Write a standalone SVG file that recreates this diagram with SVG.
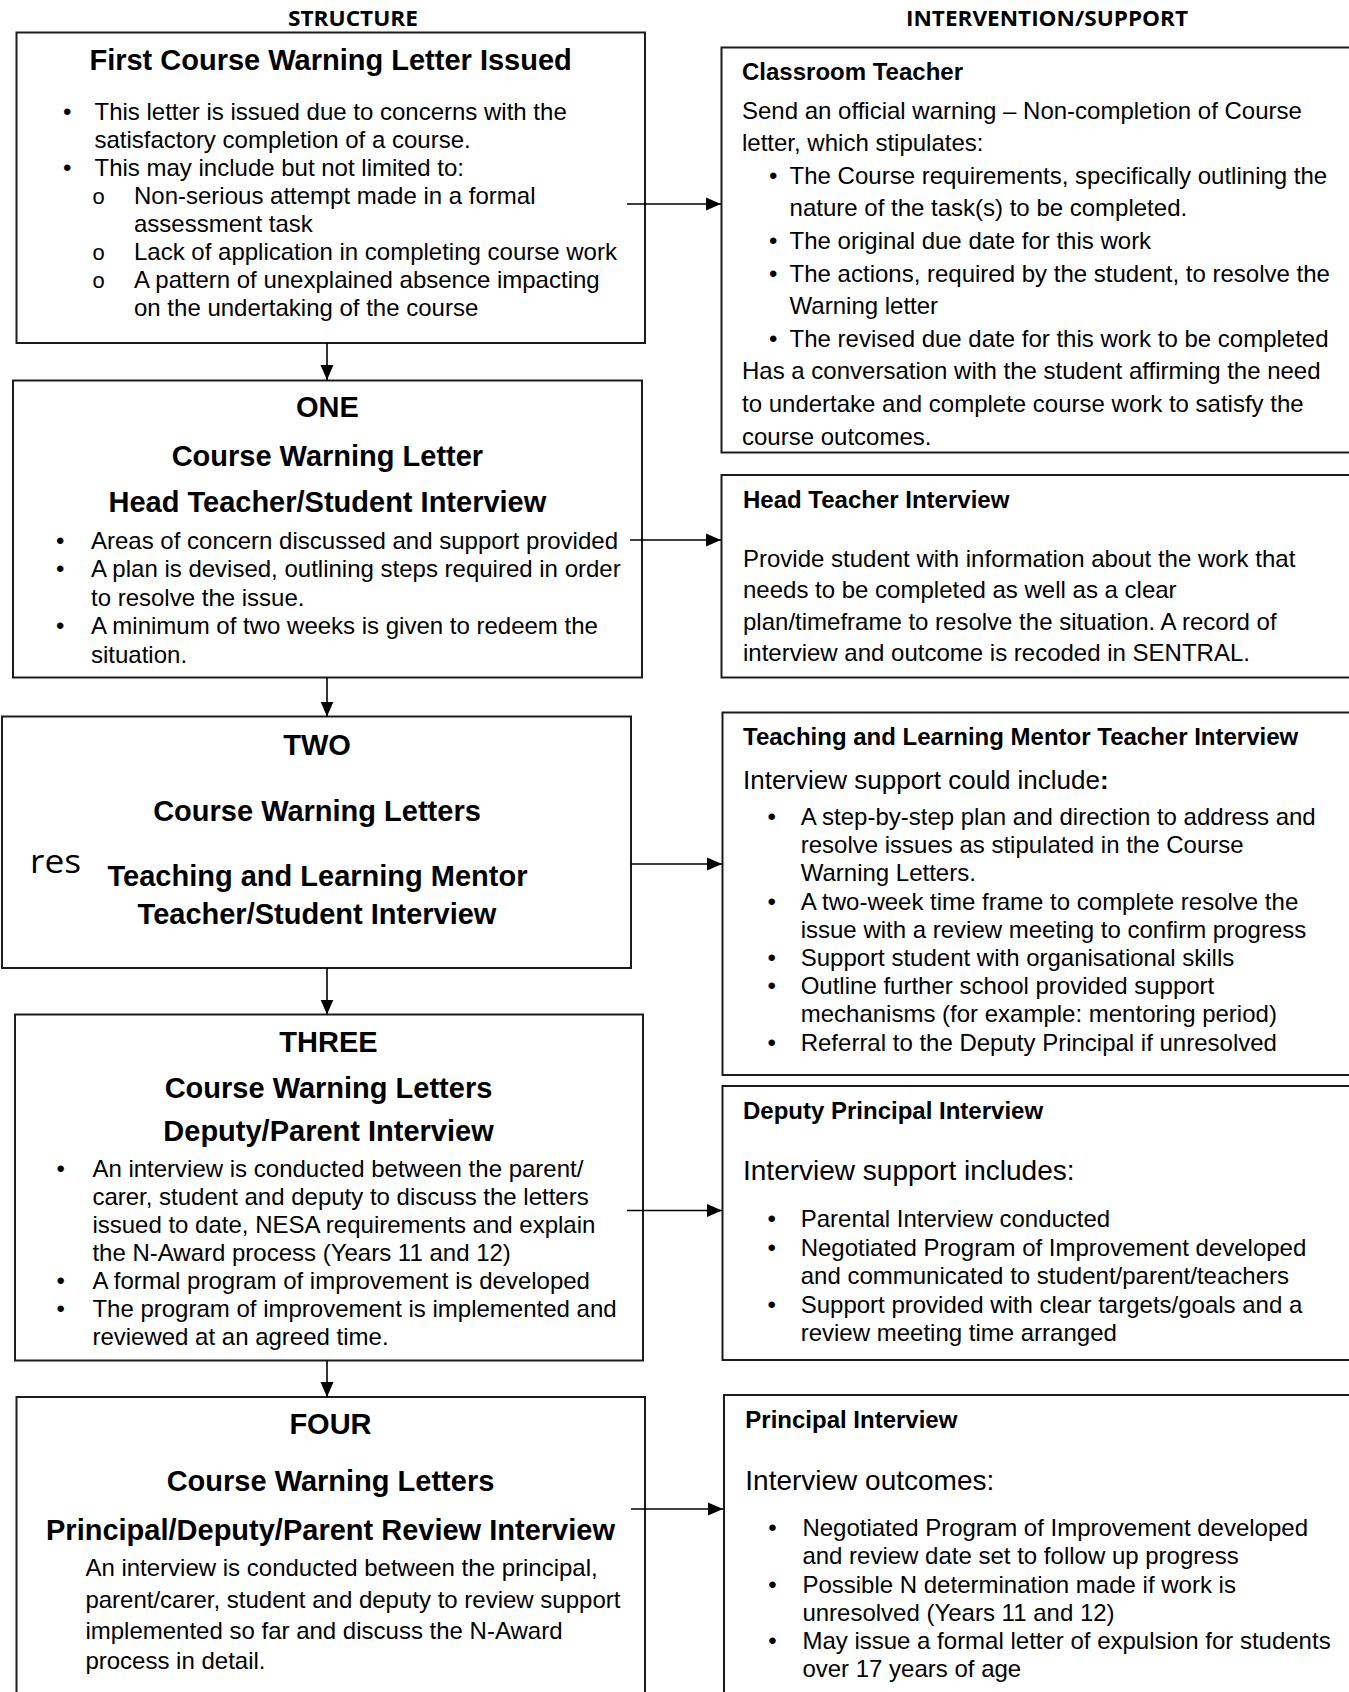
<svg xmlns="http://www.w3.org/2000/svg" width="1349" height="1692" viewBox="0 0 1349 1692">
<style>
.bg{fill:#fff}
.box{fill:#fff;stroke:#1c1c1c;stroke-width:2}
.t{font-family:"Liberation Sans",Arial,sans-serif;font-size:24px;fill:#000}
.b{font-weight:bold}
.h{font-family:"Liberation Sans",Arial,sans-serif;font-size:29px;font-weight:bold;text-anchor:middle;fill:#000}
.hd{font-family:"Open Sans",sans-serif;font-weight:bold;font-size:21px;text-anchor:middle;fill:#000}
.sub{font-family:"Liberation Mono",monospace;font-size:22px;fill:#000}
.res{font-family:"Open Sans",sans-serif;font-size:33px;fill:#000}
.big{font-size:26px}
.big2{font-size:28px}
.conn{stroke:#000;stroke-width:1.6;fill:none}
</style>
<defs>
<marker id="ah" markerUnits="userSpaceOnUse" markerWidth="16" markerHeight="14" refX="15" refY="7" orient="auto">
<path d="M0,0.5 L15,7 L0,13.5 z" fill="#000"/>
</marker>
</defs>
<rect class="bg" x="0" y="0" width="1349" height="1692"/>

<g id="headers">
<text class="hd" x="353" y="26" textLength="130" lengthAdjust="spacingAndGlyphs">STRUCTURE</text>
<text class="hd" x="1047" y="26" textLength="282" lengthAdjust="spacingAndGlyphs">INTERVENTION/SUPPORT</text>
</g>

<g id="node-first">
<rect class="box" x="16.5" y="32.5" width="628.5" height="310.5"/>
<text class="h" x="330.6" y="70">First Course Warning Letter Issued</text>
<text class="t" x="63" y="120">•</text>
<text class="t" x="94.5" y="120">This letter is issued due to concerns with the</text>
<text class="t" x="94.5" y="148">satisfactory completion of a course.</text>
<text class="t" x="63" y="176">•</text>
<text class="t" x="94.5" y="176">This may include but not limited to:</text>
<text class="sub" x="92" y="204">o</text>
<text class="t" x="134" y="204">Non-serious attempt made in a formal</text>
<text class="t" x="134" y="232">assessment task</text>
<text class="sub" x="92" y="260">o</text>
<text class="t" x="134" y="260">Lack of application in completing course work</text>
<text class="sub" x="92" y="288">o</text>
<text class="t" x="134" y="288">A pattern of unexplained absence impacting</text>
<text class="t" x="134" y="316">on the undertaking of the course</text>
</g>

<g id="node-classroom">
<rect class="box" x="721.5" y="47.5" width="640" height="405"/>
<text class="t b" x="742" y="80">Classroom Teacher</text>
<text class="t" x="742" y="118.6">Send an official warning – Non-completion of Course</text>
<text class="t" x="742" y="151.2">letter, which stipulates:</text>
<text class="t" x="769" y="183.8">•</text>
<text class="t" x="789.6" y="183.8">The Course requirements, specifically outlining the</text>
<text class="t" x="789.6" y="216.4">nature of the task(s) to be completed.</text>
<text class="t" x="769" y="249">•</text>
<text class="t" x="789.6" y="249">The original due date for this work</text>
<text class="t" x="769" y="281.6">•</text>
<text class="t" x="789.6" y="281.6">The actions, required by the student, to resolve the</text>
<text class="t" x="789.6" y="314.2">Warning letter</text>
<text class="t" x="769" y="346.8">•</text>
<text class="t" x="789.6" y="346.8">The revised due date for this work to be completed</text>
<text class="t" x="742" y="379.4">Has a conversation with the student affirming the need</text>
<text class="t" x="742" y="412">to undertake and complete course work to satisfy the</text>
<text class="t" x="742" y="444.6">course outcomes.</text>
</g>

<g id="node-one">
<rect class="box" x="13" y="380.5" width="629" height="297"/>
<text class="h" x="327.4" y="417">ONE</text>
<text class="h" x="327.4" y="466">Course Warning Letter</text>
<text class="h" x="327.4" y="511.5">Head Teacher/Student Interview</text>
<text class="t" x="56" y="548.5">•</text>
<text class="t" x="91" y="548.5">Areas of concern discussed and support provided</text>
<text class="t" x="56" y="577">•</text>
<text class="t" x="91" y="577">A plan is devised, outlining steps required in order</text>
<text class="t" x="91" y="605.5">to resolve the issue.</text>
<text class="t" x="56" y="634">•</text>
<text class="t" x="91" y="634">A minimum of two weeks is given to redeem the</text>
<text class="t" x="91" y="662.5">situation.</text>
</g>

<g id="node-headteacher">
<rect class="box" x="721.5" y="475" width="640" height="202.5"/>
<text class="t b" x="743" y="507.5">Head Teacher Interview</text>
<text class="t" x="743" y="567">Provide student with information about the work that</text>
<text class="t" x="743" y="598.3">needs to be completed as well as a clear</text>
<text class="t" x="743" y="629.6">plan/timeframe to resolve the situation. A record of</text>
<text class="t" x="743" y="660.9">interview and outcome is recoded in SENTRAL.</text>
</g>

<g id="node-two">
<rect class="box" x="2" y="716.5" width="629" height="251.5"/>
<text class="h" x="317" y="754.5">TWO</text>
<text class="h" x="317" y="820.5">Course Warning Letters</text>
<text class="res" x="30" y="872.5" textLength="51" lengthAdjust="spacingAndGlyphs">res</text>
<text class="h" x="317.5" y="885.5">Teaching and Learning Mentor</text>
<text class="h" x="317" y="923.7">Teacher/Student Interview</text>
</g>

<g id="node-mentor">
<rect class="box" x="722.5" y="712.5" width="640" height="362.5"/>
<text class="t b" x="743" y="745">Teaching and Learning Mentor Teacher Interview</text>
<text class="t big" x="743" y="789.3">Interview support could include<tspan font-weight="bold">:</tspan></text>
<text class="t" x="767.5" y="825">•</text>
<text class="t" x="800.7" y="825">A step-by-step plan and direction to address and</text>
<text class="t" x="800.7" y="853.2">resolve issues as stipulated in the Course</text>
<text class="t" x="800.7" y="881.4">Warning Letters.</text>
<text class="t" x="767.5" y="909.6">•</text>
<text class="t" x="800.7" y="909.6">A two-week time frame to complete resolve the</text>
<text class="t" x="800.7" y="937.8">issue with a review meeting to confirm progress</text>
<text class="t" x="767.5" y="966">•</text>
<text class="t" x="800.7" y="966">Support student with organisational skills</text>
<text class="t" x="767.5" y="994.2">•</text>
<text class="t" x="800.7" y="994.2">Outline further school provided support</text>
<text class="t" x="800.7" y="1022.4">mechanisms (for example: mentoring period)</text>
<text class="t" x="767.5" y="1050.6">•</text>
<text class="t" x="800.7" y="1050.6">Referral to the Deputy Principal if unresolved</text>
</g>

<g id="node-three">
<rect class="box" x="15" y="1014.5" width="628" height="346"/>
<text class="h" x="328.5" y="1051.7">THREE</text>
<text class="h" x="328.5" y="1098.3">Course Warning Letters</text>
<text class="h" x="328.5" y="1140.5">Deputy/Parent Interview</text>
<text class="t" x="56.4" y="1177">•</text>
<text class="t" x="92.4" y="1177">An interview is conducted between the parent/</text>
<text class="t" x="92.4" y="1205">carer, student and deputy to discuss the letters</text>
<text class="t" x="92.4" y="1233">issued to date, NESA requirements and explain</text>
<text class="t" x="92.4" y="1261">the N-Award process (Years 11 and 12)</text>
<text class="t" x="56.4" y="1289">•</text>
<text class="t" x="92.4" y="1289">A formal program of improvement is developed</text>
<text class="t" x="56.4" y="1317">•</text>
<text class="t" x="92.4" y="1317">The program of improvement is implemented and</text>
<text class="t" x="92.4" y="1345">reviewed at an agreed time.</text>
</g>

<g id="node-deputy">
<rect class="box" x="722.5" y="1086" width="640" height="274"/>
<text class="t b" x="743" y="1119">Deputy Principal Interview</text>
<text class="t big2" x="743" y="1180">Interview support includes:</text>
<text class="t" x="767.5" y="1227">•</text>
<text class="t" x="800.7" y="1227">Parental Interview conducted</text>
<text class="t" x="767.5" y="1256">•</text>
<text class="t" x="800.7" y="1256">Negotiated Program of Improvement developed</text>
<text class="t" x="800.7" y="1284">and communicated to student/parent/teachers</text>
<text class="t" x="767.5" y="1313">•</text>
<text class="t" x="800.7" y="1313">Support provided with clear targets/goals and a</text>
<text class="t" x="800.7" y="1341">review meeting time arranged</text>
</g>

<g id="node-four">
<rect class="box" x="16.5" y="1397" width="628.5" height="320"/>
<text class="h" x="330.5" y="1434">FOUR</text>
<text class="h" x="330.5" y="1490.5">Course Warning Letters</text>
<text class="h" x="330.5" y="1540">Principal/Deputy/Parent Review Interview</text>
<text class="t" x="85.4" y="1576">An interview is conducted between the principal,</text>
<text class="t" x="85.4" y="1607.5">parent/carer, student and deputy to review support</text>
<text class="t" x="85.4" y="1638.5">implemented so far and discuss the N-Award</text>
<text class="t" x="85.4" y="1669">process in detail.</text>
</g>

<g id="node-principal">
<rect class="box" x="724" y="1395" width="640" height="320"/>
<text class="t b" x="745.3" y="1428.3">Principal Interview</text>
<text class="t big2" x="745.3" y="1490">Interview outcomes:</text>
<text class="t" x="768.3" y="1536">•</text>
<text class="t" x="802.4" y="1536">Negotiated Program of Improvement developed</text>
<text class="t" x="802.4" y="1564">and review date set to follow up progress</text>
<text class="t" x="768.3" y="1592.5">•</text>
<text class="t" x="802.4" y="1592.5">Possible N determination made if work is</text>
<text class="t" x="802.4" y="1620.5">unresolved (Years 11 and 12)</text>
<text class="t" x="768.3" y="1649">•</text>
<text class="t" x="802.4" y="1649">May issue a formal letter of expulsion for students</text>
<text class="t" x="802.4" y="1677">over 17 years of age</text>
</g>

<g id="connectors">
<line class="conn" x1="327" y1="343" x2="327" y2="380" marker-end="url(#ah)"/>
<line class="conn" x1="327" y1="677.5" x2="327" y2="716.5" marker-end="url(#ah)"/>
<line class="conn" x1="327" y1="968" x2="327" y2="1014.5" marker-end="url(#ah)"/>
<line class="conn" x1="327" y1="1360.5" x2="327" y2="1397" marker-end="url(#ah)"/>
<line class="conn" x1="627" y1="204" x2="721" y2="204" marker-end="url(#ah)"/>
<line class="conn" x1="630" y1="540" x2="721" y2="540" marker-end="url(#ah)"/>
<line class="conn" x1="631" y1="864" x2="722" y2="864" marker-end="url(#ah)"/>
<line class="conn" x1="627" y1="1210.5" x2="722" y2="1210.5" marker-end="url(#ah)"/>
<line class="conn" x1="631" y1="1509" x2="723" y2="1509" marker-end="url(#ah)"/>
</g>
</svg>
